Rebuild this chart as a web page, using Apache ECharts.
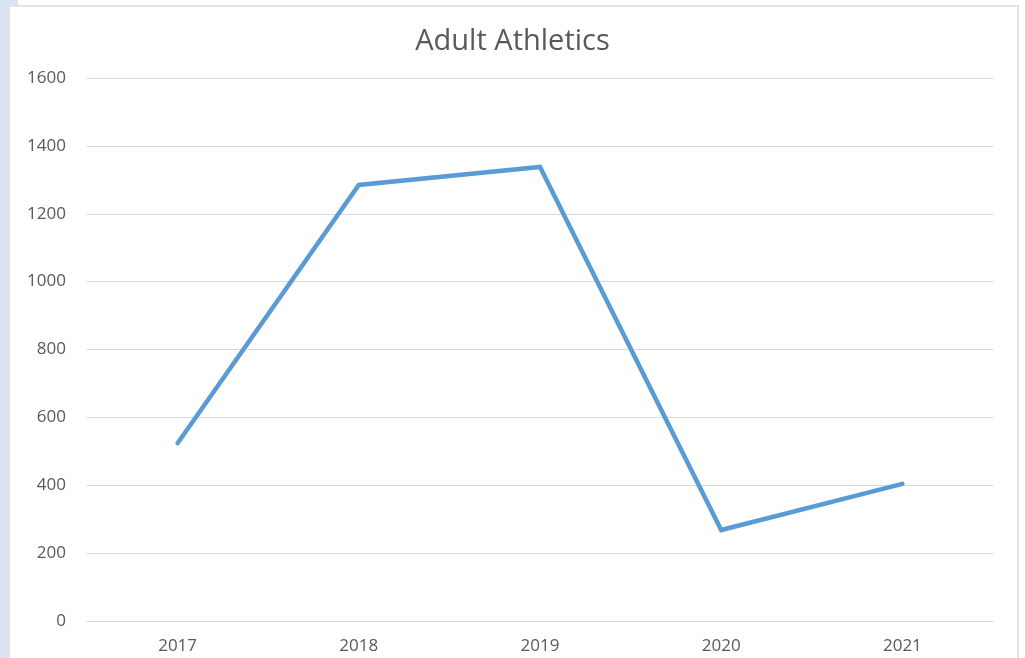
<!DOCTYPE html>
<html>
<head>
<meta charset="utf-8">
<script src="https://cdn.jsdelivr.net/npm/echarts@6/dist/echarts.min.js"></script>
<style>
  html, body { margin: 0; padding: 0; background: #ffffff; }
  #side { position: absolute; left: 0; top: 0; width: 8px; height: 658px; background: #dae3f3; }
  #corner { position: absolute; left: 0; top: 0; width: 18px; height: 5px; background: #dae3f3; }
  #frame { position: absolute; left: 8px; top: 5px; width: 1011px; height: 660px;
           background: #fff; border: 2px solid #e3e3e3; box-sizing: border-box; }
  #chart { position: absolute; left: 0; top: 0; width: 1025px; height: 658px; }
</style>
</head>
<body>
<div id="side"></div>
<div id="corner"></div>
<div id="frame"></div>
<div id="chart"></div>
<script>
// Participation by year
const years = ['2017', '2018', '2019', '2020', '2021'];
const participants = [524, 1285, 1338, 268, 404];
const yTicks = { min: 0, max: 1600, interval: 200 };

const chart = echarts.init(document.getElementById('chart'), null, { renderer: 'canvas' });
chart.setOption({
  backgroundColor: 'transparent',
  animation: false,
  title: {
    text: 'Adult Athletics',
    left: 'center',
    top: 22,
    textStyle: { fontFamily: 'Open Sans', fontSize: 29, fontWeight: 'normal', color: '#595959' }
  },
  grid: { left: 87, right: 32, top: 78, bottom: 37, containLabel: false },
  xAxis: {
    type: 'category',
    data: years,
    boundaryGap: true,
    axisLine: { show: true, lineStyle: { color: '#d9d9d9', width: 1 } },
    axisTick: { show: false },
    axisLabel: { color: '#595959', fontFamily: 'Open Sans', fontSize: 17, margin: 17 }
  },
  yAxis: {
    type: 'value',
    min: yTicks.min, max: yTicks.max, interval: yTicks.interval,
    axisLine: { show: false },
    axisTick: { show: false },
    splitLine: { lineStyle: { color: '#d9d9d9', width: 1 } },
    axisLabel: { color: '#595959', fontFamily: 'Open Sans', fontSize: 17, margin: 21,
                 formatter: v => String(v) }
  },
  series: [{
    type: 'line',
    data: participants,
    symbol: 'none',
    lineStyle: { color: '#5b9bd5', width: 4.5, cap: 'round', join: 'miter' }
  }]
});
</script>
</body>
</html>
